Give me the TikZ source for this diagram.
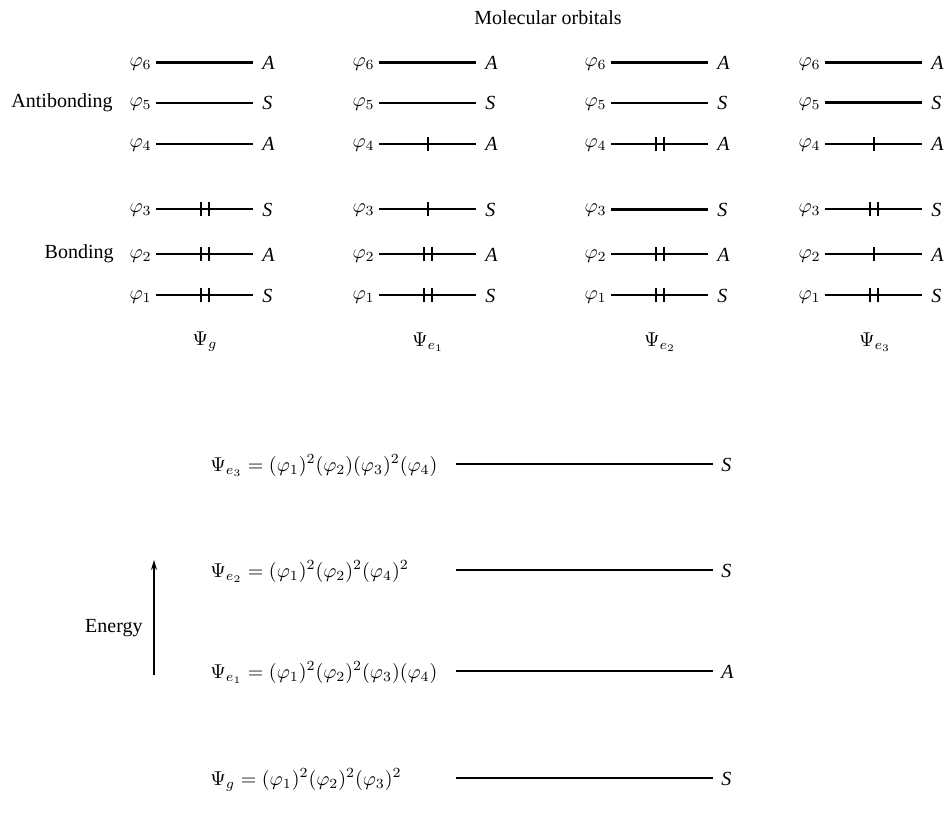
\documentclass[tikz,border=0pt]{standalone}
\usepackage{fontspec}
\setmainfont{Liberation Serif}
\usetikzlibrary{arrows.meta}
\begin{document}
\begin{tikzpicture}[x=0.5pt,y=-0.5pt,
  mo/.style={line width=1pt},
  mothick/.style={line width=1.5pt},
  lvl/.style={line width=1.4pt},
  orb/.style={anchor=base east,inner sep=0pt},
  sym/.style={anchor=base west,inner sep=0pt,font=\itshape},
  eqn/.style={anchor=base west,inner sep=0pt,font=\fontsize{9.6}{11}\selectfont},
  txt/.style={inner sep=0pt}]
\path[use as bounding box] (0,0) rectangle (945,818);
% title and side labels
\node[txt] (mol) at (548,18) {Molecular orbitals};
\node[txt,anchor=east] (anti) at (113,103) {Antibonding};
\node[txt,anchor=east] (bond) at (114,254) {Bonding};
% orbital ladders
\foreach \c/\xs in {1/156,2/379,3/611,4/825}{
  \foreach \r/\y/\s in {1/295/S,2/254/A,3/209/S,4/144/A,5/103/S,6/63/A}{
    \coordinate (L\c\r a) at (\xs,\y);
    \coordinate (L\c\r b) at (\xs+97,\y);
    \draw[mo] (L\c\r a) -- (L\c\r b);
    \node[orb] (P\c\r) at (\xs-4,\y+4) {$\varphi_{\r}$};
    \node[sym] (S\c\r) at (\xs+106,\y+7) {\s};
  }
  \draw[mothick] (L\c6a) -- (L\c6b);
}
\draw[mothick] (L45a) -- (L45b);
\draw[mothick] (L33a) -- (L33b);
% electrons
\foreach \c/\r/\n in {1/1/2,1/2/2,1/3/2,2/1/2,2/2/2,2/3/1,2/4/1,3/1/2,3/2/2,3/4/2,4/1/2,4/2/1,4/3/2,4/4/1}{
  \path (L\c\r a) -- (L\c\r b) coordinate[pos=0.5] (M\c\r);
  \ifnum\n=1
    \draw[mo] ([yshift=-3.7pt]M\c\r) -- ([yshift=3.7pt]M\c\r);
  \else
    \draw[mo] ([xshift=-2pt,yshift=-3.7pt]M\c\r) -- ([xshift=-2pt,yshift=3.7pt]M\c\r);
    \draw[mo] ([xshift=2pt,yshift=-3.7pt]M\c\r) -- ([xshift=2pt,yshift=3.7pt]M\c\r);
  \fi
}
% state labels
\node[txt] (T1) at (205,342) {$\Psi_g$};
\node[txt] (T2) at (428,342) {$\Psi_{e_1}$};
\node[txt] (T3) at (660,342) {$\Psi_{e_2}$};
\node[txt] (T4) at (875,342) {$\Psi_{e_3}$};
% state energy levels
\node[eqn] (E3) at (210,471) {$\Psi_{e_3} = (\varphi_1)^2(\varphi_2)(\varphi_3)^2(\varphi_4)$};
\node[eqn] (E2) at (210,577) {$\Psi_{e_2} = (\varphi_1)^2(\varphi_2)^2(\varphi_4)^2$};
\node[eqn] (E1) at (210,678) {$\Psi_{e_1} = (\varphi_1)^2(\varphi_2)^2(\varphi_3)(\varphi_4)$};
\node[eqn] (E0) at (210,785) {$\Psi_{g} = (\varphi_1)^2(\varphi_2)^2(\varphi_3)^2$};
\foreach \k/\y/\s in {3/464/S,2/570/S,1/671/A,0/778/S}{
  \coordinate (B\k a) at (456,\y);
  \coordinate (B\k b) at (713,\y);
  \draw[lvl] (B\k a) -- (B\k b);
  \node[sym] (BS\k) at (721,\y+7) {\s};
}
% energy arrow
\node[txt,anchor=east] (en) at (143,628) {Energy};
\coordinate (arrB) at (154,675);
\coordinate (arrT) at (154,560);
\draw[line width=0.7pt,-{Stealth[length=5pt,width=3pt]}] (arrB) -- (arrT);
\end{tikzpicture}
\end{document}
